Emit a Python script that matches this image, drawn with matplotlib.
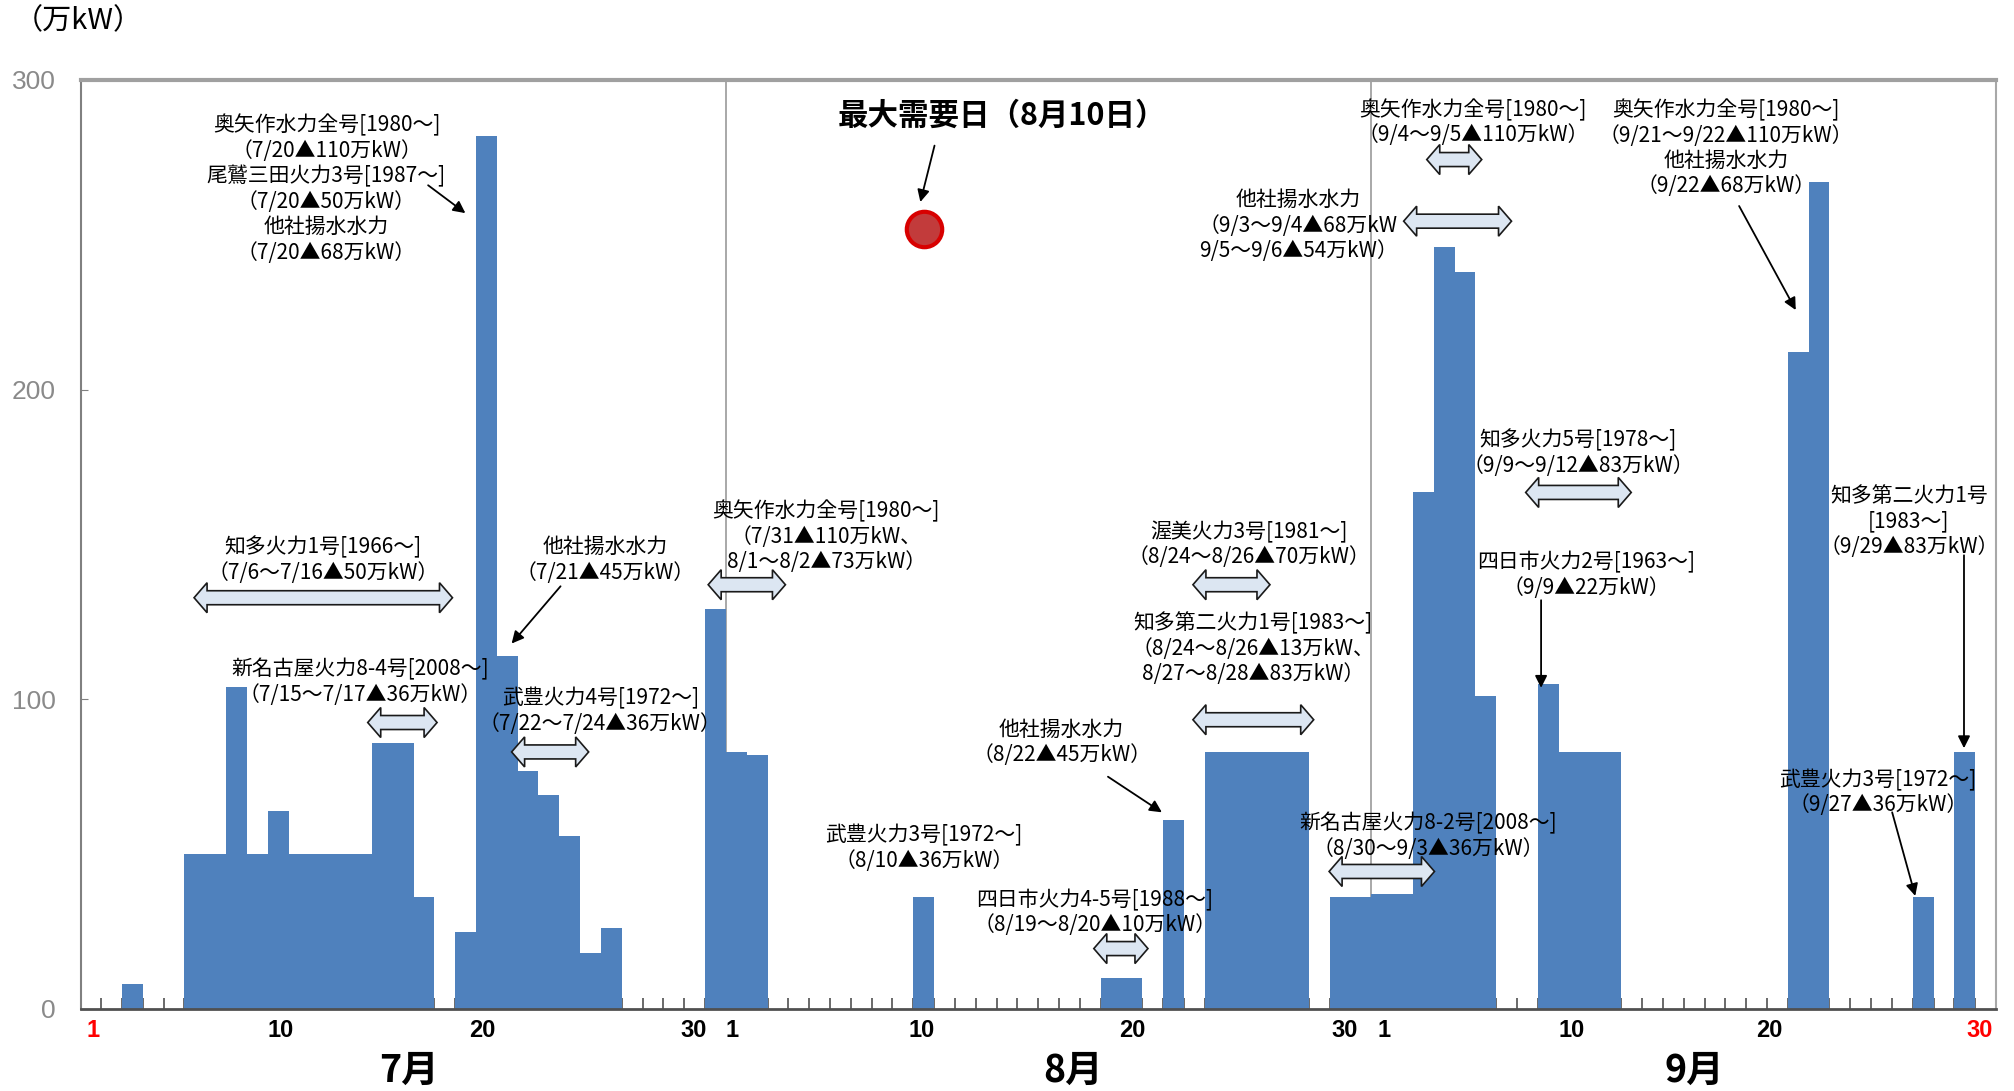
import matplotlib
matplotlib.use("Agg")
import matplotlib.pyplot as plt
from matplotlib.patches import Polygon
import matplotlib.transforms as mtransforms
import numpy as np

plt.rcParams['font.family'] = ['Noto Sans CJK JP', 'DejaVu Sans']

# daily values 7/1 - 9/30 (万kW)
july = [0, 0, 8, 0, 0, 50, 50, 104, 50, 64, 50, 50, 50, 50, 86, 86, 36, 0, 25, 282,
        114, 77, 69, 56, 18, 26, 0, 0, 0, 0, 129]
august = [83, 82, 0, 0, 0, 0, 0, 0, 0, 36, 0, 0, 0, 0, 0, 0, 0, 0, 10, 10,
          0, 61, 0, 83, 83, 83, 83, 83, 0, 36, 36]
september = [37, 37, 167, 246, 238, 101, 0, 0, 105, 83, 83, 83, 0, 0, 0, 0, 0, 0, 0, 0,
             212, 267, 0, 0, 0, 0, 36, 0, 83, 0]

months = ['7月', '8月', '9月']
day_labels = ['1', '10', '20', '30', '1', '10', '20', '30', '1', '10', '20', '30']
day_label_pos = [0.09, 9.1, 18.8, 28.97, 30.8, 39.9, 50.0, 60.2, 62.1, 71.1, 80.6, 90.7]
day_label_colors = ['#ff0000'] + ['black'] * 10 + ['#ff0000']
peak_day = 40  # 8/10
peak_value = 252

values = july + august + september
days = np.arange(len(values))

fig = plt.figure(figsize=(20.15, 10.91), dpi=100)
ax = fig.add_axes([0.0402, 0.0752, 0.9504, 0.8515])

ax.bar(days, values, width=1.0, color='#4f81bd', linewidth=0, zorder=2)

ax.set_xlim(-0.47, 91.5)
ax.set_ylim(0, 300)

# month separators
ax.axvline(30.5, color='#999999', lw=1.2, zorder=1)
ax.axvline(61.5, color='#999999', lw=1.2, zorder=1)

# frame
ax.spines['top'].set_color('#a0a0a0')
ax.spines['top'].set_linewidth(3)
ax.spines['right'].set_color('#a8a8a8')
ax.spines['right'].set_linewidth(1.5)
ax.spines['left'].set_color('#808080')
ax.spines['left'].set_linewidth(1.5)
ax.spines['bottom'].set_color('#505050')
ax.spines['bottom'].set_linewidth(2)

ax.set_yticks([0, 100, 200, 300])
ax.set_yticklabels(['0', '100', '200', '300'], color='#8a8a8a', fontsize=19,
                   family=['Liberation Sans', 'DejaVu Sans'])
ax.tick_params(axis='y', direction='in', length=5, color='#808080', pad=18)
ax.set_xticks(np.arange(0.5, 91, 1))
ax.set_xticklabels([])
ax.tick_params(axis='x', direction='in', length=8, width=1.2, color='#505050')

# day labels
trans = mtransforms.blended_transform_factory(ax.transData, ax.transAxes)
for d, lab, col in zip(day_label_pos, day_labels, day_label_colors):
    ax.text(d, -0.0235, lab, transform=trans, ha='center', va='center',
            fontsize=17, fontweight='bold', color=col,
            family=['Liberation Sans', 'DejaVu Sans'])
month_x = [15.27, 47.19, 77.0]
for mx, lab in zip(month_x, months):
    ax.text(mx, -0.066, lab, transform=trans, ha='center', va='center',
            fontsize=27, fontweight='bold')

fig.text(0.007, 0.981, '（万kW）', ha='left', va='center', fontsize=21)

# peak day
ax.scatter([peak_day], [peak_value], s=650, facecolor='#c23b3b', edgecolor='#d80000',
           linewidth=3, zorder=5)
ax.text(43.75, 288.4, '最大需要日（8月10日）', ha='center', va='center',
        fontsize=22, fontweight='bold')


def note(x, y, txt):
    ax.text(x, y, txt, ha='center', va='center', fontsize=15, linespacing=1.2, zorder=6)


def arrow(x0, y0, x1, y1):
    ax.annotate('', xy=(x1, y1), xytext=(x0, y0),
                arrowprops=dict(arrowstyle='-|>', color='black', lw=1.3,
                                mutation_scale=18, shrinkA=0, shrinkB=0), zorder=6)


def darrow(x0, x1, y, hl=13, hw=15, tw=7):
    # block double arrow, sized in pixels
    (px0, py), (px1, _) = ax.transData.transform([(x0, y), (x1, y)])
    pts = [(px0, py), (px0 + hl, py + hw), (px0 + hl, py + tw), (px1 - hl, py + tw),
           (px1 - hl, py + hw), (px1, py), (px1 - hl, py - hw), (px1 - hl, py - tw),
           (px0 + hl, py - tw), (px0 + hl, py - hw)]
    pts = ax.transData.inverted().transform(pts)
    ax.add_patch(Polygon(pts, closed=True, fc='#dce6f2', ec='#1a1a1a', lw=1.2, zorder=6))


note(11.32, 264.8, '奥矢作水力全号[1980～]\n（7/20▲110万kW）\n尾鷲三田火力3号[1987～]\n'
     '（7/20▲50万kW）\n他社揚水水力\n（7/20▲68万kW）')
arrow(16.2, 266, 17.99, 257)

note(11.14, 145.0, '知多火力1号[1966～]\n（7/6～7/16▲50万kW）')
darrow(4.96, 17.37, 132.8)

note(24.72, 145.0, '他社揚水水力\n（7/21▲45万kW）')
arrow(22.56, 136.5, 20.21, 118)

note(12.93, 105.6, '新名古屋火力8-4号[2008～]\n（7/15～7/17▲36万kW）')
darrow(13.3, 16.63, 92.5)

note(24.47, 96.1, '武豊火力4号[1972～]\n（7/22～7/24▲36万kW）')
darrow(20.21, 23.91, 83)

note(35.33, 152.5, '奥矢作水力全号[1980～]\n（7/31▲110万kW、\n8/1～8/2▲73万kW）')
darrow(29.65, 33.36, 137)

arrow(40.52, 278.8, 39.84, 260.6)

note(40.02, 51.9, '武豊火力3号[1972～]\n（8/10▲36万kW）')

note(48.23, 31.1, '四日市火力4-5号[1988～]\n（8/19～8/20▲10万kW）')
darrow(48.17, 50.77, 19.5)

note(46.63, 86.1, '他社揚水水力\n（8/22▲45万kW）')
arrow(48.85, 75, 51.44, 63.5)

note(55.64, 150.0, '渥美火力3号[1981～]\n（8/24～8/26▲70万kW）')
darrow(52.93, 56.63, 137)

note(55.83, 116.4, '知多第二火力1号[1983～]\n（8/24～8/26▲13万kW、\n8/27～8/28▲83万kW）')
darrow(52.93, 58.73, 93.4)

note(64.22, 55.8, '新名古屋火力8-2号[2008～]\n（8/30～9/3▲36万kW）')
darrow(59.47, 64.53, 44.4)

note(57.99, 252.9, '他社揚水水力\n（9/3～9/4▲68万kW\n9/5～9/6▲54万kW）')
darrow(63.05, 68.23, 254.4)

note(66.38, 286.3, '奥矢作水力全号[1980～]\n（9/4～9/5▲110万kW）')
darrow(64.16, 66.8, 274.3)

note(78.54, 278.0, '奥矢作水力全号[1980～]\n（9/21～9/22▲110万kW）\n他社揚水水力\n（9/22▲68万kW）')
arrow(79.16, 259.3, 81.88, 225.7)

note(71.44, 179.5, '知多火力5号[1978～]\n（9/9～9/12▲83万kW）')
darrow(68.91, 73.98, 166.8)

note(71.81, 140.0, '四日市火力2号[1963～]\n（9/9▲22万kW）')
arrow(69.65, 132, 69.65, 103.7)

note(87.31, 157.5, '知多第二火力1号\n[1983～]\n（9/29▲83万kW）')
arrow(89.96, 146.5, 89.96, 84.2)

note(85.83, 69.9, '武豊火力3号[1972～]\n（9/27▲36万kW）')
arrow(86.51, 63.5, 87.62, 36.5)

fig.savefig('out.png', dpi=100)
